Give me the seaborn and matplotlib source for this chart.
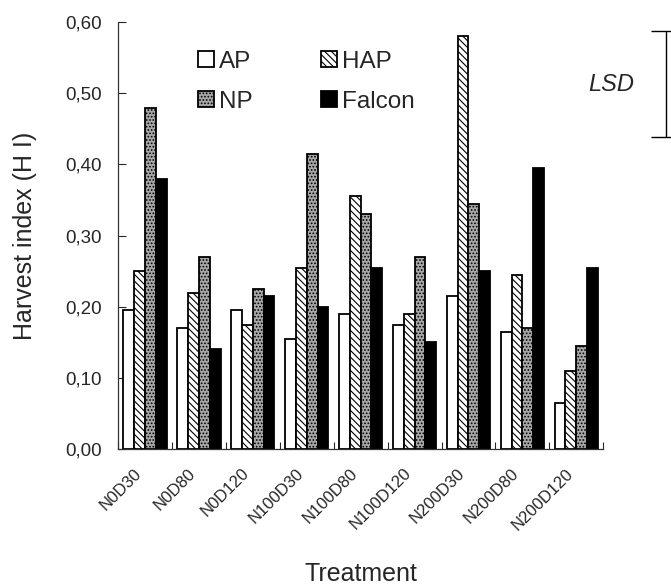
import pandas as pd
import matplotlib.pyplot as plt
import matplotlib.transforms as mtransforms
import seaborn as sns
from matplotlib.patches import Patch
from matplotlib.ticker import FixedLocator, FuncFormatter

# Data
treatments = ['N0D30', 'N0D80', 'N0D120', 'N100D30', 'N100D80',
              'N100D120', 'N200D30', 'N200D80', 'N200D120']
series = ['AP', 'HAP', 'NP', 'Falcon']
ap = [0.195, 0.170, 0.195, 0.155, 0.190, 0.175, 0.215, 0.165, 0.065]
hap = [0.250, 0.220, 0.175, 0.255, 0.355, 0.190, 0.580, 0.245, 0.110]
np_vals = [0.480, 0.270, 0.225, 0.415, 0.330, 0.270, 0.345, 0.170, 0.145]
falcon = [0.380, 0.140, 0.215, 0.200, 0.255, 0.150, 0.250, 0.395, 0.255]
lsd_value = 0.15
lsd_center = 0.513

df = pd.DataFrame({
    'Treatment': treatments * 4,
    'Series': [s for s in series for _ in treatments],
    'HI': ap + hap + np_vals + falcon,
})

sns.set_style('white')
plt.rcParams['font.family'] = ['Liberation Sans', 'DejaVu Sans']
plt.rcParams['hatch.color'] = '#222222'
plt.rcParams['hatch.linewidth'] = 0.8

fig = plt.figure(figsize=(6.71, 5.85), dpi=100)
ax = fig.add_axes([0.176, 0.2325, 0.723, 0.7295])

faces = {'AP': 'white', 'HAP': 'white', 'NP': '#a8a8a8', 'Falcon': 'black'}
hatches = {'AP': '', 'HAP': '\\\\\\\\\\', 'NP': '.....', 'Falcon': ''}

sns.barplot(data=df, x='Treatment', y='HI', hue='Series', hue_order=series,
            order=treatments, palette=faces, edgecolor='black', linewidth=1.3,
            width=0.8, saturation=1, ax=ax, legend=False)

for cont, s in zip(ax.containers, series):
    for bar in cont:
        bar.set_hatch(hatches[s])
        bar.set_facecolor(faces[s])

# legend built by hand so the patterns show (column-wise fill: AP, NP | HAP, Falcon)
legend_order = ['AP', 'NP', 'HAP', 'Falcon']
handles = [Patch(facecolor=faces[s], edgecolor='black', hatch=hatches[s],
                 linewidth=1.3, label=s) for s in legend_order]
ax.legend(handles=handles, ncol=2, frameon=False, loc='upper left',
          bbox_to_anchor=(0.14, 0.962), fontsize=17.5, handlelength=0.66,
          handleheight=0.66, handletextpad=0.2, columnspacing=2.8,
          labelspacing=0.74, borderpad=0)

ax.set_xlim(-0.5, 8.5)
ax.set_ylim(0, 0.6)
ax.set_yticks([0, 0.1, 0.2, 0.3, 0.4, 0.5, 0.6])
ax.yaxis.set_major_formatter(FuncFormatter(lambda v, p: f'{v:.2f}'.replace('.', ',')))
ax.tick_params(axis='y', direction='in', length=6, width=0.8, labelsize=13.5,
               left=True, pad=12)

ax.xaxis.set_minor_locator(FixedLocator([i + 0.5 for i in range(-1, 9)]))
ax.tick_params(axis='x', which='major', length=0, labelsize=12, pad=12)
ax.tick_params(axis='x', which='minor', direction='in', length=5, width=0.8,
               bottom=True)
shift = mtransforms.ScaledTranslation(-8 / 72, 0, fig.dpi_scale_trans)
for lbl in ax.get_xticklabels():
    lbl.set_rotation(45)
    lbl.set_ha('right')
    lbl.set_rotation_mode('anchor')
    lbl.set_transform(lbl.get_transform() + shift)

for side in ['top', 'right']:
    ax.spines[side].set_visible(False)
for side in ['left', 'bottom']:
    ax.spines[side].set_color('#333333')
    ax.spines[side].set_linewidth(0.9)

ax.set_xlabel('Treatment', fontsize=18, labelpad=21)
ax.set_ylabel('Harvest index (H I)', fontsize=18, labelpad=20)

# LSD bar outside the plot area
ax.errorbar([9.67], [lsd_center], yerr=[lsd_value / 2], fmt='none',
            ecolor='black', elinewidth=1, capsize=11, capthick=1,
            clip_on=False)
ax.text(8.65, lsd_center, 'LSD', fontsize=17, style='italic',
        ha='center', va='center')

plt.savefig('out.png', dpi=100)
